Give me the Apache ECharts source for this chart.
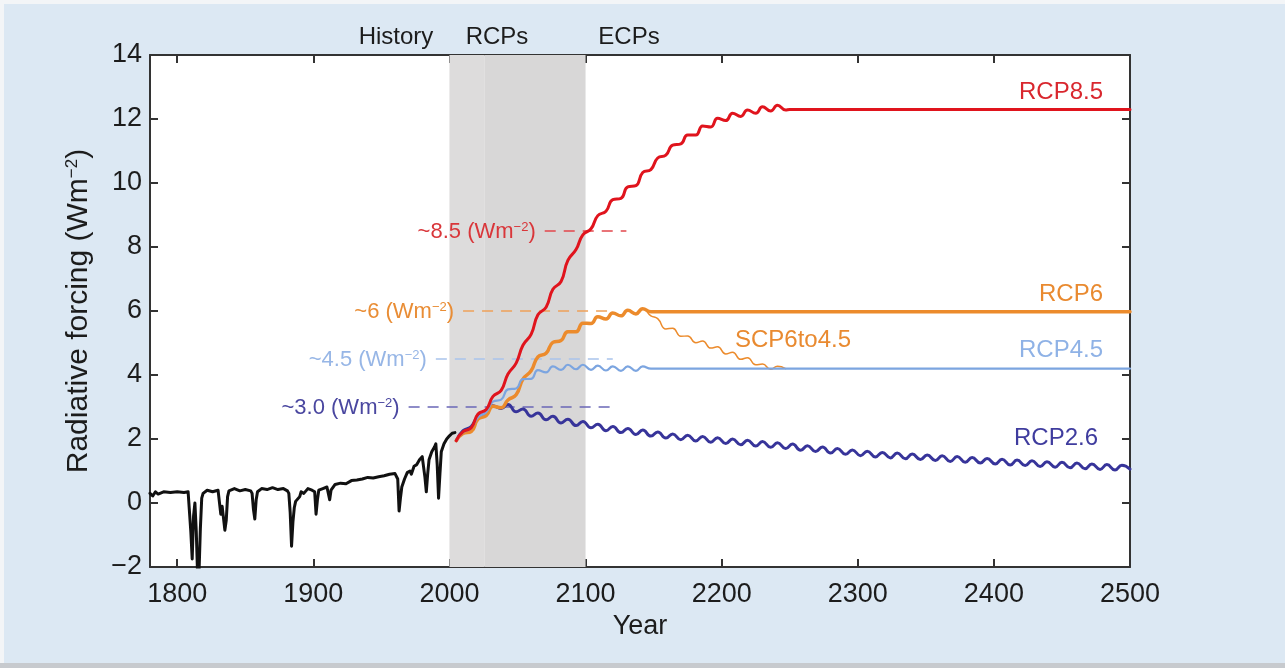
<!DOCTYPE html>
<html>
<head>
<meta charset="utf-8">
<script src="https://cdn.jsdelivr.net/npm/echarts@6/dist/echarts.min.js"></script>
<style>
html,body{margin:0;padding:0;background:#dce8f3;}
#c{width:1285px;height:668px;}
</style>
</head>
<body>
<div id="c"></div>
<script>
// ---------------- DATA ----------------
const xTickValues = [1800, 1900, 2000, 2100, 2200, 2300, 2400, 2500];
const periodLabels = ['History', 'RCPs', 'ECPs'];
const rcpBand = [[2000, 2026], [2026, 2100]];

const history = [
  [1780,0.30],[1782,0.22],[1784,0.35],[1786,0.28],[1790,0.35],[1795,0.33],[1800,0.35],[1805,0.33],
  [1808,0.35],[1809,0.30],[1810,-0.90],[1811,-1.75],[1812,-0.40],[1813,0.00],[1814,-0.90],[1815,-2.30],
  [1816,-2.20],[1817,-0.80],[1818,0.15],[1819,0.30],[1822,0.40],[1826,0.35],[1830,0.40],[1831,0.35],
  [1832,-0.35],[1833,-0.10],[1835,-0.85],[1836,-0.55],[1837,0.20],[1838,0.38],[1842,0.45],[1846,0.38],
  [1850,0.42],[1854,0.38],[1855,0.30],[1856,-0.20],[1857,-0.50],[1858,0.10],[1859,0.35],[1862,0.45],
  [1866,0.42],[1870,0.48],[1874,0.42],[1878,0.45],[1881,0.38],[1882,0.30],[1883,-0.30],[1884,-1.35],
  [1885,-0.60],[1886,-0.15],[1887,0.05],[1888,0.10],[1890,0.20],[1891,0.35],[1893,0.30],[1896,0.45],
  [1899,0.40],[1901,0.35],[1902,-0.35],[1903,0.10],[1904,0.40],[1907,0.45],[1910,0.50],[1911,0.45],
  [1912,0.10],[1913,0.40],[1916,0.58],[1920,0.62],[1924,0.60],[1928,0.70],[1932,0.72],[1936,0.75],
  [1940,0.80],[1944,0.78],[1948,0.82],[1952,0.85],[1956,0.90],[1960,0.92],[1962,0.75],[1963,-0.25],
  [1964,0.15],[1965,0.50],[1967,0.75],[1969,0.95],[1971,1.00],[1972,0.90],[1974,1.15],[1976,1.20],
  [1978,1.35],[1980,1.45],[1981,1.40],[1982,0.80],[1983,0.35],[1984,0.90],[1985,1.35],[1987,1.60],
  [1989,1.75],[1990,1.85],[1991,1.20],[1992,0.15],[1993,0.90],[1994,1.60],[1996,1.85],[1998,2.00],
  [2000,2.10],[2002,2.18],[2004,2.20]
];

const rcp85 = [
  [2005,1.95],[2010,2.23],[2016,2.35],[2021,2.78],[2027,2.92],[2032,3.33],[2038,3.52],[2043,4.03],
  [2049,4.37],[2054,4.93],[2060,5.27],[2065,5.88],[2071,6.12],[2076,6.68],[2082,6.92],[2087,7.58],
  [2093,7.92],[2098,8.38],[2104,8.57],[2109,8.98],[2115,9.12],[2120,9.48],[2126,9.52],[2131,9.88],
  [2137,9.92],[2142,10.33],[2148,10.42],[2153,10.78],[2159,10.87],[2164,11.18],[2170,11.22],[2175,11.50],
  [2181,11.50],[2186,11.78],[2192,11.75],[2197,12.02],[2203,11.95],[2208,12.18],[2214,12.08],[2219,12.28],
  [2225,12.18],[2230,12.38],[2236,12.25],[2241,12.43],[2247,12.28],[2250,12.30],[2500,12.30]
];

const rcp6 = [
  [2005,1.95],[2010,2.17],[2016,2.23],[2021,2.62],[2027,2.73],[2032,3.02],[2038,2.98],[2043,3.22],
  [2049,3.38],[2054,3.87],[2060,4.13],[2065,4.57],[2071,4.68],[2076,5.02],[2082,5.08],[2087,5.35],
  [2093,5.35],[2098,5.62],[2104,5.61],[2109,5.82],[2115,5.75],[2120,5.94],[2126,5.85],[2131,6.02],
  [2137,5.91],[2142,6.07],[2148,5.98],[2500,5.98]
];

const scp6to45 = [
  [2137,5.91],[2142,6.07],[2148,5.85],[2153,5.76],[2159,5.44],[2164,5.46],[2170,5.21],[2175,5.22],
  [2181,5.01],[2186,5.06],[2192,4.84],[2197,4.88],[2203,4.66],[2208,4.71],[2214,4.49],[2219,4.54],
  [2225,4.32],[2230,4.34],[2236,4.18],[2241,4.27],[2247,4.20]
];

const rcp45 = [
  [2005,1.95],[2010,2.21],[2016,2.34],[2021,2.68],[2027,2.84],[2032,3.17],[2038,3.23],[2043,3.55],
  [2049,3.58],[2054,3.87],[2060,3.88],[2065,4.15],[2071,4.08],[2076,4.27],[2082,4.16],[2087,4.32],
  [2093,4.18],[2098,4.32],[2104,4.16],[2109,4.29],[2115,4.14],[2120,4.27],[2126,4.13],[2131,4.27],
  [2137,4.13],[2142,4.27],[2148,4.20],[2500,4.20]
];

const rcp26 = [
  [2005,1.95],[2010,2.26],[2016,2.39],[2021,2.71],[2027,2.79],[2032,3.04],[2038,2.95],[2043,3.08],
  [2049,2.85],[2054,2.94],[2060,2.71],[2065,2.81],[2071,2.60],[2076,2.71],[2082,2.50],[2087,2.62],
  [2093,2.42],[2098,2.55],[2104,2.35],[2109,2.46],[2115,2.26],[2120,2.39],[2126,2.20],[2131,2.33],
  [2137,2.14],[2142,2.28],[2148,2.09],[2153,2.22],[2159,2.03],[2164,2.16],[2170,1.98],[2175,2.12],
  [2181,1.94],[2186,2.08],[2192,1.90],[2197,2.04],[2203,1.86],[2208,2.00],[2214,1.82],[2219,1.96],
  [2225,1.78],[2230,1.92],[2236,1.74],[2241,1.88],[2247,1.70],[2252,1.84],[2258,1.65],[2263,1.79],
  [2269,1.61],[2274,1.75],[2280,1.56],[2285,1.70],[2291,1.52],[2296,1.66],[2302,1.48],[2307,1.62],
  [2313,1.44],[2318,1.58],[2324,1.41],[2329,1.56],[2335,1.38],[2340,1.53],[2346,1.36],[2351,1.50],
  [2357,1.33],[2362,1.48],[2368,1.30],[2373,1.45],[2379,1.27],[2384,1.42],[2390,1.25],[2395,1.39],
  [2401,1.22],[2406,1.37],[2412,1.19],[2417,1.34],[2423,1.17],[2428,1.32],[2434,1.14],[2439,1.29],
  [2445,1.12],[2450,1.27],[2456,1.10],[2461,1.25],[2467,1.07],[2472,1.22],[2478,1.05],[2483,1.20],
  [2489,1.03],[2494,1.18],[2500,1.06]
];

// reference levels (dashed) : level, start year, end year, label
const refLevels = [8.5, 6.0, 4.5, 3.0];
const refStart  = [2070, 2010, 1990, 1970];
const refEnd    = [2130, 2120, 2120, 2120];
const refLabels = ['~8.5', '~6', '~4.5', '~3.0'];
const seriesNames = ['RCP8.5', 'RCP6', 'RCP4.5', 'RCP2.6', 'SCP6to4.5'];

// ---------------- STYLE ----------------
const FONT = "'Liberation Sans', Arial, Helvetica, sans-serif";
const TXT = '#1c1c1c';
const C = {
  red: '#e0141d', orange: '#ec8b2c', light: '#7ca5e0', dark: '#37349a', black: '#111111',
  redTxt: '#d9272e', orangeTxt: '#e98a30', lightTxt: '#8fb2e6', darkTxt: '#3f3c9e'
};
const refColors = ['#e2474c', '#eea15a', '#a9c3ec', '#6a67b6'];
const refTxtColors = ['#d9363a', '#e98d35', '#97b6e6', '#4a47a0'];

const chart = echarts.init(document.getElementById('c'), null, {renderer: 'canvas'});

const axisLineStyle = {color: '#333', width: 2};

const refSeries = refLevels.map((lv, i) => ({
  type: 'line', name: 'ref' + i, silent: true, symbol: 'none', z: 2,
  data: [[refStart[i], lv], [refEnd[i], lv]],
  lineStyle: {color: refColors[i], width: 1.6, type: [11, 8]}
}));

function lineSeries(name, data, color, width, smooth, z) {
  return {type: 'line', name, data, symbol: 'none', smooth, z, silent: true,
    lineStyle: {color, width, join: 'round', cap: 'round'}};
}

const option = {
  backgroundColor: '#dce8f3',
  animation: false,
  textStyle: {fontFamily: FONT},
  grid: {left: 150, right: 155, top: 55, bottom: 101, show: true, backgroundColor: '#ffffff', borderWidth: 0},
  xAxis: [
    {type: 'value', min: 1780, max: 2500, position: 'bottom',
      axisLine: {show: true, onZero: false, lineStyle: axisLineStyle},
      axisTick: {show: true, inside: true, length: 8, customValues: xTickValues, lineStyle: axisLineStyle},
      axisLabel: {customValues: xTickValues, fontSize: 27, color: TXT, margin: 14, fontFamily: FONT,
        formatter: v => String(v)},
      splitLine: {show: false},
      name: 'Year', nameLocation: 'middle', nameGap: 44,
      nameTextStyle: {fontSize: 27, color: TXT, fontFamily: FONT}},
    {type: 'value', min: 1780, max: 2500, position: 'top',
      axisLine: {show: true, onZero: false, lineStyle: axisLineStyle},
      axisTick: {show: true, inside: true, length: 8, customValues: xTickValues, lineStyle: axisLineStyle},
      axisLabel: {show: false}, splitLine: {show: false}}
  ],
  yAxis: [
    {type: 'value', min: -2, max: 14, interval: 2, position: 'left',
      axisLine: {show: true, onZero: false, lineStyle: axisLineStyle},
      axisTick: {show: true, inside: true, length: 8, lineStyle: axisLineStyle},
      axisLabel: {fontSize: 27, color: TXT, margin: 8, fontFamily: FONT,
        formatter: v => v < 0 ? '\u2212' + Math.abs(v) : String(v)},
      splitLine: {show: false},
      name: '{a|Radiative forcing (Wm}{s|\u22122}{a|)}', nameLocation: 'middle', nameGap: 56, nameRotate: 90,
      nameTextStyle: {fontFamily: FONT, rich: {
        a: {fontSize: 30, color: TXT, fontFamily: FONT},
        s: {fontSize: 17, color: TXT, fontFamily: FONT, verticalAlign: 'top'}}}},
    {type: 'value', min: -2, max: 14, interval: 2, position: 'right',
      axisLine: {show: true, onZero: false, lineStyle: axisLineStyle},
      axisTick: {show: true, inside: true, length: 8, lineStyle: axisLineStyle},
      axisLabel: {show: false}, splitLine: {show: false}}
  ],
  series: [
    {type: 'line', name: 'band', data: [], silent: true, z: 1,
      markArea: {silent: true, itemStyle: {opacity: 1},
        data: [
          [{xAxis: rcpBand[0][0], itemStyle: {color: '#dddcdc'}}, {xAxis: rcpBand[0][1]}],
          [{xAxis: rcpBand[1][0], itemStyle: {color: '#d8d7d7'}}, {xAxis: rcpBand[1][1]}]
        ]}},
    ...refSeries,
    lineSeries('History', history, C.black, 3, false, 5),
    lineSeries(seriesNames[3], rcp26, C.dark, 3, 0.5, 6),
    lineSeries(seriesNames[1], rcp6, C.orange, 3.5, 0.5, 7),
    lineSeries(seriesNames[4], scp6to45, C.orange, 1.5, 0.5, 8),
    lineSeries(seriesNames[2], rcp45, C.light, 2.2, 0.5, 9),
    lineSeries(seriesNames[0], rcp85, C.red, 3, 0.5, 10)
  ],
  graphic: []
};

chart.setOption(option);

// ---------- annotation texts ----------
const g = [];
g.push({type: 'rect', shape: {x: 0, y: 0, width: 1285, height: 4}, style: {fill: '#f3f5f7'}, z: -10});
g.push({type: 'rect', shape: {x: 0, y: 0, width: 4, height: 668}, style: {fill: '#f3f5f7'}, z: -10});
g.push({type: 'rect', shape: {x: 0, y: 663, width: 1285, height: 5}, style: {fill: '#c7cace'}, z: -10});

const periodX = [396, 497, 629];
periodLabels.forEach((t, i) => g.push({type: 'text', x: periodX[i], y: 37, z: 20,
  style: {text: t, fill: TXT, font: '24px ' + FONT, align: 'center', verticalAlign: 'middle'}}));

refLevels.forEach((lv, i) => {
  const p = chart.convertToPixel({xAxisIndex: 0, yAxisIndex: 0}, [refStart[i], lv]);
  g.push({type: 'text', x: p[0] - 9, y: p[1] + 1, z: 20,
    style: {text: '{a|' + refLabels[i] + ' (Wm}{s|\u22122}{a|)}', align: 'right', verticalAlign: 'middle',
      rich: {a: {fontSize: 22, fill: refTxtColors[i], fontFamily: FONT},
             s: {fontSize: 13, fill: refTxtColors[i], fontFamily: FONT, verticalAlign: 'top'}}}});
});

const seriesLabelPos = [[1103, 92, 'right', C.redTxt], [1103, 294, 'right', C.orangeTxt],
  [1103, 350, 'right', C.lightTxt], [1098, 438, 'right', C.darkTxt], [735, 340, 'left', C.orangeTxt]];
seriesNames.forEach((n, i) => {
  const s = seriesLabelPos[i];
  g.push({type: 'text', x: s[0], y: s[1], z: 20,
    style: {text: n, fill: s[3], font: '24px ' + FONT, align: s[2], verticalAlign: 'middle'}});
});

chart.setOption({graphic: g});
</script>
</body>
</html>
